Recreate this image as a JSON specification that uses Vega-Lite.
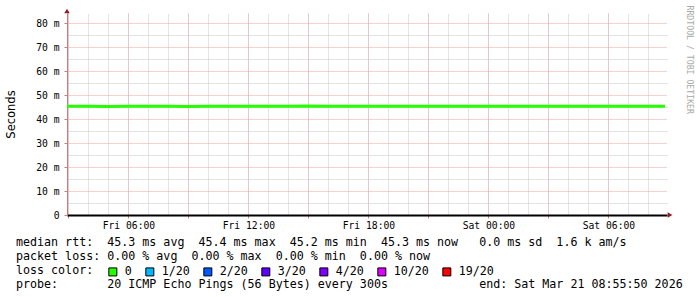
{
  "$schema": "https://vega.github.io/schema/vega-lite/v6.json",
  "width": 600,
  "height": 202,
  "autosize": {"type": "none"},
  "padding": {"left": 67, "top": 13, "right": 30, "bottom": 82},
  "background": "white",
  "config": {"view": {"stroke": null}},
  "title": {
    "text": [
      "median\u00a0rtt:\u00a0\u00a045.3\u00a0ms\u00a0avg\u00a0\u00a045.4\u00a0ms\u00a0max\u00a0\u00a045.2\u00a0ms\u00a0min\u00a0\u00a045.3\u00a0ms\u00a0now\u00a0\u00a0\u00a00.0\u00a0ms\u00a0sd\u00a0\u00a01.6\u00a0k\u00a0am/s",
      "packet\u00a0loss:\u00a00.00\u00a0%\u00a0avg\u00a0\u00a00.00\u00a0%\u00a0max\u00a0\u00a00.00\u00a0%\u00a0min\u00a0\u00a00.00\u00a0%\u00a0now",
      "loss\u00a0color:",
      "probe:\u00a0\u00a0\u00a0\u00a0\u00a0\u00a0\u00a020\u00a0ICMP\u00a0Echo\u00a0Pings\u00a0(56\u00a0Bytes)\u00a0every\u00a0300s\u00a0\u00a0\u00a0\u00a0\u00a0\u00a0\u00a0\u00a0\u00a0\u00a0\u00a0\u00a0\u00a0end:\u00a0Sat\u00a0Mar\u00a021\u00a008:55:50\u00a02026"
    ],
    "orient": "bottom",
    "anchor": "start",
    "frame": "group",
    "font": "DejaVu Sans Mono",
    "fontSize": 11.66,
    "fontWeight": "normal",
    "color": "black",
    "baseline": "top",
    "lineHeight": 14,
    "dx": -51,
    "dy": -45,
    "offset": 4
  },
  "resolve": {"axis": {"x": "independent", "y": "independent"}},
  "data": {
    "values": [
      {"t": "2026-03-20T02:55:50Z", "rtt": 45.3, "loss": "0"},
      {"t": "2026-03-20T04:00:00Z", "rtt": 45.3, "loss": "0"},
      {"t": "2026-03-20T05:00:00Z", "rtt": 45.2, "loss": "0"},
      {"t": "2026-03-20T06:00:00Z", "rtt": 45.3, "loss": "0"},
      {"t": "2026-03-20T07:00:00Z", "rtt": 45.3, "loss": "0"},
      {"t": "2026-03-20T08:00:00Z", "rtt": 45.3, "loss": "0"},
      {"t": "2026-03-20T09:00:00Z", "rtt": 45.2, "loss": "0"},
      {"t": "2026-03-20T10:00:00Z", "rtt": 45.3, "loss": "0"},
      {"t": "2026-03-20T11:00:00Z", "rtt": 45.3, "loss": "0"},
      {"t": "2026-03-20T12:00:00Z", "rtt": 45.3, "loss": "0"},
      {"t": "2026-03-20T13:00:00Z", "rtt": 45.3, "loss": "0"},
      {"t": "2026-03-20T14:00:00Z", "rtt": 45.3, "loss": "0"},
      {"t": "2026-03-20T15:00:00Z", "rtt": 45.4, "loss": "0"},
      {"t": "2026-03-20T16:00:00Z", "rtt": 45.3, "loss": "0"},
      {"t": "2026-03-20T17:00:00Z", "rtt": 45.3, "loss": "0"},
      {"t": "2026-03-20T18:00:00Z", "rtt": 45.3, "loss": "0"},
      {"t": "2026-03-20T19:00:00Z", "rtt": 45.3, "loss": "0"},
      {"t": "2026-03-20T20:00:00Z", "rtt": 45.3, "loss": "0"},
      {"t": "2026-03-20T21:00:00Z", "rtt": 45.3, "loss": "0"},
      {"t": "2026-03-20T22:00:00Z", "rtt": 45.3, "loss": "0"},
      {"t": "2026-03-20T23:00:00Z", "rtt": 45.3, "loss": "0"},
      {"t": "2026-03-21T00:00:00Z", "rtt": 45.3, "loss": "0"},
      {"t": "2026-03-21T01:00:00Z", "rtt": 45.3, "loss": "0"},
      {"t": "2026-03-21T02:00:00Z", "rtt": 45.3, "loss": "0"},
      {"t": "2026-03-21T03:00:00Z", "rtt": 45.3, "loss": "0"},
      {"t": "2026-03-21T04:00:00Z", "rtt": 45.3, "loss": "0"},
      {"t": "2026-03-21T05:00:00Z", "rtt": 45.3, "loss": "0"},
      {"t": "2026-03-21T06:00:00Z", "rtt": 45.3, "loss": "0"},
      {"t": "2026-03-21T07:00:00Z", "rtt": 45.3, "loss": "0"},
      {"t": "2026-03-21T08:00:00Z", "rtt": 45.3, "loss": "0"},
      {"t": "2026-03-21T08:50:00Z", "rtt": 45.3, "loss": "0"}
    ]
  },
  "layer": [
    {
      "mark": {"type": "line", "strokeWidth": 3, "strokeCap": "butt", "stroke": "#26ff00"},
      "encoding": {
        "x": {
          "field": "t", "type": "temporal",
          "scale": {"type": "utc", "domain": [
            {"year": 2026, "month": 3, "date": 20, "hours": 2, "minutes": 55, "seconds": 50, "utc": true},
            {"year": 2026, "month": 3, "date": 21, "hours": 8, "minutes": 55, "seconds": 50, "utc": true}
          ]},
          "axis": {
            "orient": "bottom",
            "title": null,
            "values": [1773975600000, 1773986400000, 1773997200000, 1774008000000, 1774018800000, 1774029600000, 1774040400000, 1774051200000, 1774062000000, 1774072800000],
            "labelExpr": "utchours(datum.value) % 6 == 0 ? utcFormat(datum.value, '%a %H:%M') : ''",
            "grid": true, "gridColor": "#f0a0a0", "gridDash": [1, 1], "gridOpacity": 1,
            "domainColor": "black", "domainWidth": 2,
            "ticks": true, "tickColor": "#d08080", "tickSize": 3,
            "labelFont": "DejaVu Sans Mono", "labelFontSize": 9.7, "labelColor": "black",
            "labelPadding": 2, "labelOverlap": false, "labelFlush": false
          }
        },
        "y": {
          "field": "rtt", "type": "quantitative",
          "scale": {"domain": [0, 84.2], "nice": false, "zero": true},
          "axis": {
            "orient": "left",
            "values": [0, 10, 20, 30, 40, 50, 60, 70, 80],
            "labelExpr": "datum.value == 0 ? '0' : datum.value + ' m'",
            "grid": true, "gridColor": "#f0a0a0", "gridDash": [1, 1], "gridOpacity": 1,
            "domainColor": "#c08080", "domainWidth": 1,
            "ticks": true, "tickColor": "#d08080", "tickSize": 3,
            "labelFont": "DejaVu Sans Mono", "labelFontSize": 9.7, "labelColor": "black",
            "labelPadding": 5,
            "title": "Seconds", "titleFont": "DejaVu Sans", "titleFontSize": 11.5,
            "titleFontWeight": "normal", "titleColor": "black",
            "titleAngle": 270, "titleBaseline": "middle", "titleAlign": "center",
            "titleX": -56, "titleY": 101
          }
        }
      }
    },
    {
      "mark": {"type": "square", "opacity": 0, "size": 4},
      "encoding": {
        "x": {"field": "t", "type": "temporal", "axis": null},
        "y": {"field": "rtt", "type": "quantitative", "axis": null},
        "color": {
          "field": "loss", "type": "nominal",
          "scale": {
            "domain": ["0", "1/20", "2/20", "3/20", "4/20", "10/20", "19/20"],
            "range": ["#26ff00", "#00b8ff", "#0059ff", "#5e00ff", "#7e00ff", "#dd00ff", "#ff0000"]
          },
          "legend": {
            "orient": "none", "legendX": 40, "legendY": 253,
            "direction": "horizontal", "title": null,
            "symbolType": "square", "symbolSize": 64, "symbolOpacity": 1,
            "symbolStrokeColor": "black", "symbolStrokeWidth": 1,
            "labelFont": "DejaVu Sans Mono", "labelFontSize": 11.66, "labelColor": "black",
            "labelOffset": 6, "columnPadding": 11, "padding": 0, "symbolOffset": 0
          }
        }
      }
    },
    {
      "data": {"values": [{"t": "2026-03-20T02:55:50Z", "rtt": 84.2}]},
      "mark": {"type": "point", "shape": "triangle-up", "size": 30, "filled": true, "color": "#901f1f", "opacity": 1, "yOffset": -2},
      "encoding": {
        "x": {
          "field": "t", "type": "temporal",
          "axis": {
            "orient": "top", "title": null,
            "values": [1773975600000, 1773979200000, 1773982800000, 1773986400000, 1773990000000, 1773993600000, 1773997200000, 1774000800000, 1774004400000, 1774008000000, 1774011600000, 1774015200000, 1774018800000, 1774022400000, 1774026000000, 1774029600000, 1774033200000, 1774036800000, 1774040400000, 1774044000000, 1774047600000, 1774051200000, 1774054800000, 1774058400000, 1774062000000, 1774065600000, 1774069200000, 1774072800000, 1774076400000, 1774080000000],
            "grid": true, "gridColor": "#c8c8c8", "gridDash": [1, 1], "gridOpacity": 1,
            "labels": false, "ticks": false, "domain": false
          }
        },
        "y": {
          "field": "rtt", "type": "quantitative",
          "axis": {
            "orient": "right",
            "values": [5, 15, 25, 35, 45, 55, 65, 75],
            "grid": true, "gridColor": "#c8c8c8", "gridDash": [1, 1], "gridOpacity": 1,
            "labels": false, "ticks": false, "domain": false,
            "title": "RRDTOOL / TOBI OETIKER", "titleFont": "DejaVu Sans Mono", "titleFontSize": 8.2,
            "titleFontWeight": "normal", "titleColor": "#a8a8a8",
            "titleAngle": 90, "titleAlign": "left", "titleBaseline": "middle",
            "titleX": 21, "titleY": -8
          }
        }
      }
    },
    {
      "data": {"values": [{"t": "2026-03-21T08:55:50Z", "rtt": 0}]},
      "mark": {"type": "point", "shape": "triangle-right", "size": 30, "filled": true, "color": "#901f1f", "opacity": 1, "xOffset": 3},
      "encoding": {
        "x": {"field": "t", "type": "temporal", "axis": null},
        "y": {"field": "rtt", "type": "quantitative", "axis": null}
      }
    }
  ]
}
